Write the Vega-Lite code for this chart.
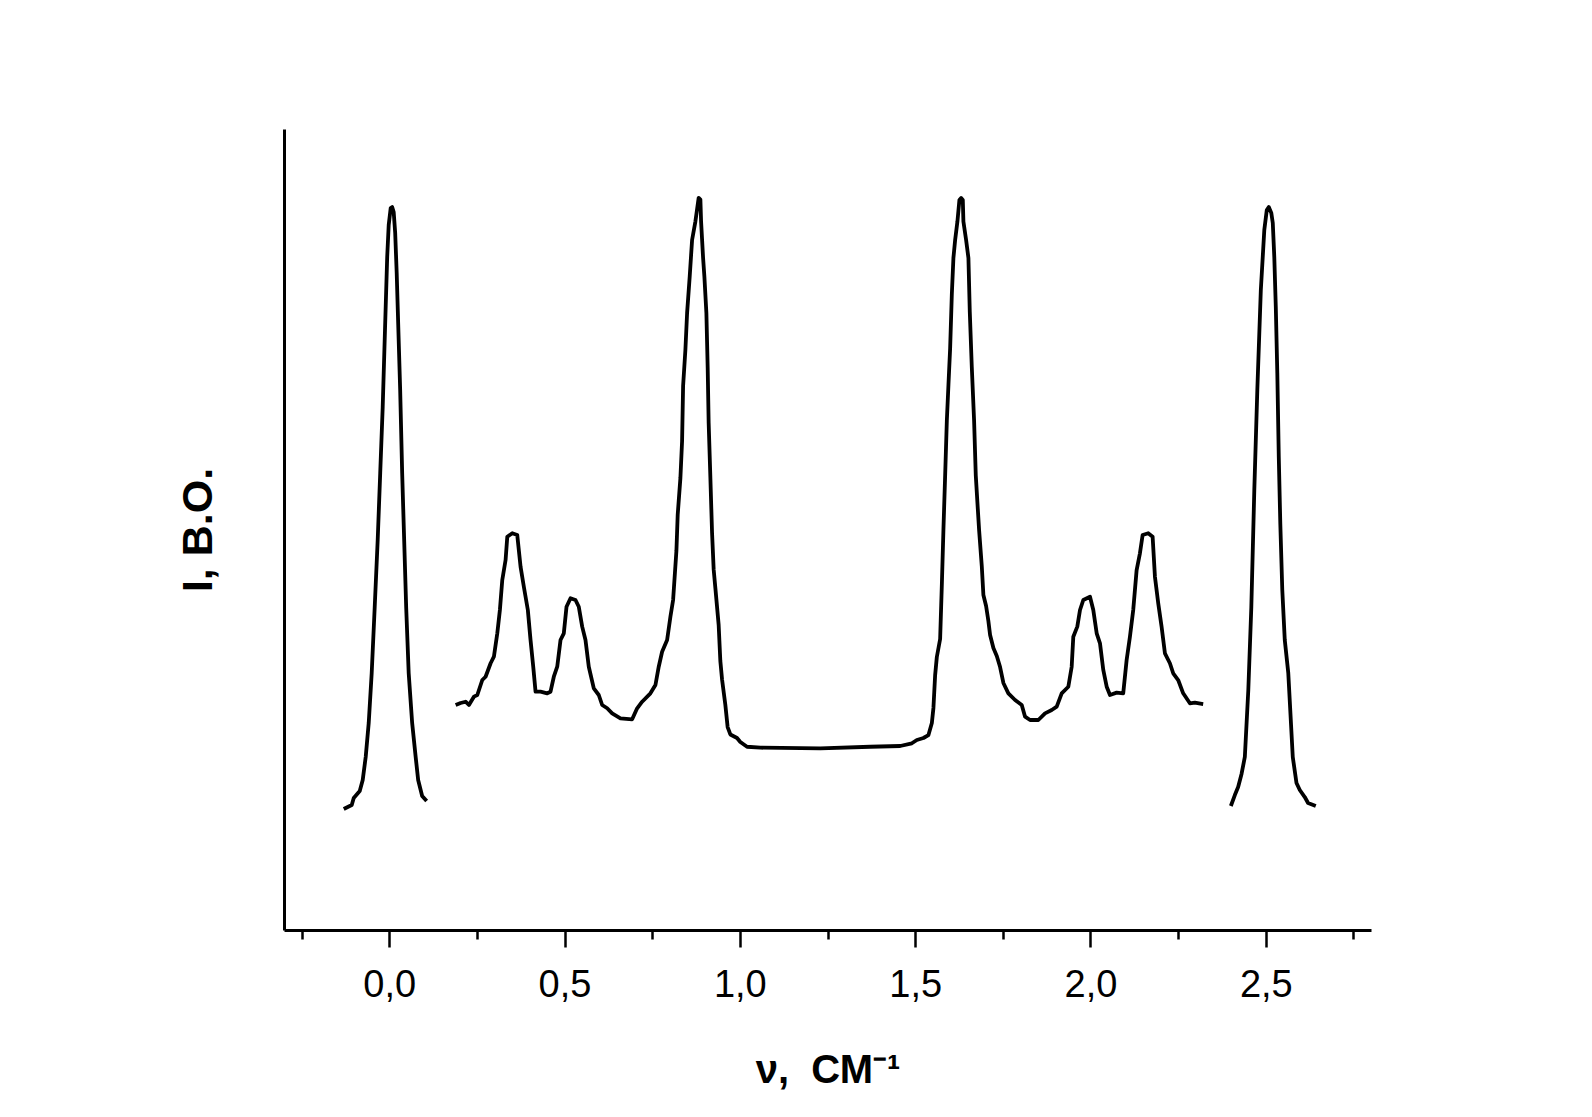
{
  "$schema": "https://vega.github.io/schema/vega-lite/v6.json",
  "width": 1087,
  "height": 801,
  "autosize": {"type": "none"},
  "padding": {"left": 284, "top": 129, "right": 221, "bottom": 187},
  "background": "white",
  "config": {
    "view": {"stroke": null},
    "axis": {
      "domainColor": "black",
      "domainWidth": 3,
      "tickColor": "black",
      "tickWidth": 2.5,
      "grid": false,
      "labelColor": "black",
      "labelFont": "Liberation Sans, Arial, sans-serif",
      "labelFontSize": 38,
      "titleColor": "black",
      "titleFont": "Liberation Sans, Arial, sans-serif",
      "titleFontSize": 40,
      "titleFontWeight": "bold"
    }
  },
  "data": {
    "values": [
      {"seg": "a", "nu": -0.1296, "I": 15.11},
      {"seg": "a", "nu": -0.1068, "I": 15.61},
      {"seg": "a", "nu": -0.1011, "I": 16.48},
      {"seg": "a", "nu": -0.0840, "I": 17.35},
      {"seg": "a", "nu": -0.0755, "I": 18.73},
      {"seg": "a", "nu": -0.0670, "I": 21.60},
      {"seg": "a", "nu": -0.0584, "I": 25.84},
      {"seg": "a", "nu": -0.0499, "I": 32.08},
      {"seg": "a", "nu": -0.0413, "I": 40.32},
      {"seg": "a", "nu": -0.0328, "I": 48.69},
      {"seg": "a", "nu": -0.0256, "I": 57.05},
      {"seg": "a", "nu": -0.0185, "I": 65.29},
      {"seg": "a", "nu": -0.0114, "I": 75.78},
      {"seg": "a", "nu": -0.0057, "I": 84.02},
      {"seg": "a", "nu": -0.0014, "I": 88.01},
      {"seg": "a", "nu": 0.0043, "I": 90.14},
      {"seg": "a", "nu": 0.0085, "I": 90.26},
      {"seg": "a", "nu": 0.0128, "I": 89.64},
      {"seg": "a", "nu": 0.0171, "I": 87.02},
      {"seg": "a", "nu": 0.0214, "I": 82.02},
      {"seg": "a", "nu": 0.0256, "I": 75.78},
      {"seg": "a", "nu": 0.0313, "I": 67.42},
      {"seg": "a", "nu": 0.0370, "I": 57.05},
      {"seg": "a", "nu": 0.0427, "I": 48.69},
      {"seg": "a", "nu": 0.0484, "I": 40.32},
      {"seg": "a", "nu": 0.0556, "I": 32.08},
      {"seg": "a", "nu": 0.0655, "I": 25.84},
      {"seg": "a", "nu": 0.0755, "I": 21.60},
      {"seg": "a", "nu": 0.0826, "I": 18.73},
      {"seg": "a", "nu": 0.0940, "I": 16.73},
      {"seg": "a", "nu": 0.1068, "I": 16.10},

      {"seg": "b", "nu": 0.1895, "I": 28.09},
      {"seg": "b", "nu": 0.2037, "I": 28.34},
      {"seg": "b", "nu": 0.2179, "I": 28.50},
      {"seg": "b", "nu": 0.2274, "I": 28.09},
      {"seg": "b", "nu": 0.2416, "I": 29.13},
      {"seg": "b", "nu": 0.2513, "I": 29.34},
      {"seg": "b", "nu": 0.2655, "I": 31.21},
      {"seg": "b", "nu": 0.2749, "I": 31.62},
      {"seg": "b", "nu": 0.2892, "I": 33.30},
      {"seg": "b", "nu": 0.2986, "I": 34.12},
      {"seg": "b", "nu": 0.3083, "I": 37.04},
      {"seg": "b", "nu": 0.3157, "I": 39.95},
      {"seg": "b", "nu": 0.3225, "I": 43.70},
      {"seg": "b", "nu": 0.3319, "I": 46.19},
      {"seg": "b", "nu": 0.3368, "I": 49.10},
      {"seg": "b", "nu": 0.3510, "I": 49.53},
      {"seg": "b", "nu": 0.3652, "I": 49.31},
      {"seg": "b", "nu": 0.3746, "I": 45.36},
      {"seg": "b", "nu": 0.3840, "I": 42.86},
      {"seg": "b", "nu": 0.3954, "I": 39.95},
      {"seg": "b", "nu": 0.4031, "I": 36.20},
      {"seg": "b", "nu": 0.4108, "I": 32.87},
      {"seg": "b", "nu": 0.4174, "I": 29.75},
      {"seg": "b", "nu": 0.4316, "I": 29.75},
      {"seg": "b", "nu": 0.4507, "I": 29.55},
      {"seg": "b", "nu": 0.4601, "I": 29.75},
      {"seg": "b", "nu": 0.4695, "I": 31.62},
      {"seg": "b", "nu": 0.4792, "I": 32.87},
      {"seg": "b", "nu": 0.4886, "I": 36.20},
      {"seg": "b", "nu": 0.4980, "I": 37.04},
      {"seg": "b", "nu": 0.5057, "I": 40.36},
      {"seg": "b", "nu": 0.5171, "I": 41.41},
      {"seg": "b", "nu": 0.5313, "I": 41.20},
      {"seg": "b", "nu": 0.5407, "I": 40.36},
      {"seg": "b", "nu": 0.5504, "I": 37.87},
      {"seg": "b", "nu": 0.5598, "I": 36.20},
      {"seg": "b", "nu": 0.5692, "I": 32.87},
      {"seg": "b", "nu": 0.5835, "I": 30.17},
      {"seg": "b", "nu": 0.5977, "I": 29.34},
      {"seg": "b", "nu": 0.6074, "I": 28.09},
      {"seg": "b", "nu": 0.6217, "I": 27.68},
      {"seg": "b", "nu": 0.6359, "I": 27.05},
      {"seg": "b", "nu": 0.6595, "I": 26.43},
      {"seg": "b", "nu": 0.6929, "I": 26.30},
      {"seg": "b", "nu": 0.7071, "I": 27.68},
      {"seg": "b", "nu": 0.7214, "I": 28.50},
      {"seg": "b", "nu": 0.7450, "I": 29.55},
      {"seg": "b", "nu": 0.7593, "I": 30.59},
      {"seg": "b", "nu": 0.7687, "I": 32.87},
      {"seg": "b", "nu": 0.7783, "I": 34.74},
      {"seg": "b", "nu": 0.7926, "I": 36.20},
      {"seg": "b", "nu": 0.8020, "I": 39.11},
      {"seg": "b", "nu": 0.8097, "I": 41.20},
      {"seg": "b", "nu": 0.8191, "I": 47.32},
      {"seg": "b", "nu": 0.8228, "I": 51.85},
      {"seg": "b", "nu": 0.8305, "I": 56.43},
      {"seg": "b", "nu": 0.8353, "I": 61.05},
      {"seg": "b", "nu": 0.8382, "I": 67.92},
      {"seg": "b", "nu": 0.8447, "I": 72.41},
      {"seg": "b", "nu": 0.8496, "I": 77.03},
      {"seg": "b", "nu": 0.8570, "I": 81.57},
      {"seg": "b", "nu": 0.8638, "I": 86.14},
      {"seg": "b", "nu": 0.8732, "I": 88.44},
      {"seg": "b", "nu": 0.8826, "I": 91.41},
      {"seg": "b", "nu": 0.8875, "I": 91.19},
      {"seg": "b", "nu": 0.8895, "I": 88.44},
      {"seg": "b", "nu": 0.8952, "I": 83.90},
      {"seg": "b", "nu": 0.8989, "I": 81.57},
      {"seg": "b", "nu": 0.9046, "I": 77.03},
      {"seg": "b", "nu": 0.9083, "I": 70.16},
      {"seg": "b", "nu": 0.9111, "I": 63.30},
      {"seg": "b", "nu": 0.9160, "I": 56.43},
      {"seg": "b", "nu": 0.9208, "I": 49.56},
      {"seg": "b", "nu": 0.9254, "I": 44.99},
      {"seg": "b", "nu": 0.9302, "I": 42.70},
      {"seg": "b", "nu": 0.9396, "I": 38.08},
      {"seg": "b", "nu": 0.9444, "I": 33.58},
      {"seg": "b", "nu": 0.9493, "I": 31.27},
      {"seg": "b", "nu": 0.9587, "I": 28.09},
      {"seg": "b", "nu": 0.9652, "I": 25.34},
      {"seg": "b", "nu": 0.9729, "I": 24.41},
      {"seg": "b", "nu": 0.9920, "I": 23.97},
      {"seg": "b", "nu": 1.0014, "I": 23.47},
      {"seg": "b", "nu": 1.0205, "I": 22.88},
      {"seg": "b", "nu": 1.0584, "I": 22.76},
      {"seg": "b", "nu": 1.2293, "I": 22.68},
      {"seg": "b", "nu": 1.3718, "I": 22.88},
      {"seg": "b", "nu": 1.4573, "I": 22.97},
      {"seg": "b", "nu": 1.4906, "I": 23.31},
      {"seg": "b", "nu": 1.5048, "I": 23.72},
      {"seg": "b", "nu": 1.5236, "I": 23.97},
      {"seg": "b", "nu": 1.5379, "I": 24.34},
      {"seg": "b", "nu": 1.5476, "I": 25.84},
      {"seg": "b", "nu": 1.5521, "I": 27.72},
      {"seg": "b", "nu": 1.5570, "I": 31.84},
      {"seg": "b", "nu": 1.5618, "I": 34.08},
      {"seg": "b", "nu": 1.5712, "I": 36.33},
      {"seg": "b", "nu": 1.5761, "I": 43.12},
      {"seg": "b", "nu": 1.5806, "I": 49.94},
      {"seg": "b", "nu": 1.5855, "I": 56.72},
      {"seg": "b", "nu": 1.5903, "I": 63.55},
      {"seg": "b", "nu": 1.5949, "I": 68.04},
      {"seg": "b", "nu": 1.5997, "I": 72.58},
      {"seg": "b", "nu": 1.6046, "I": 79.40},
      {"seg": "b", "nu": 1.6091, "I": 83.90},
      {"seg": "b", "nu": 1.6140, "I": 86.14},
      {"seg": "b", "nu": 1.6205, "I": 88.44},
      {"seg": "b", "nu": 1.6262, "I": 91.14},
      {"seg": "b", "nu": 1.6311, "I": 91.39},
      {"seg": "b", "nu": 1.6359, "I": 91.14},
      {"seg": "b", "nu": 1.6376, "I": 88.44},
      {"seg": "b", "nu": 1.6453, "I": 86.14},
      {"seg": "b", "nu": 1.6519, "I": 83.90},
      {"seg": "b", "nu": 1.6558, "I": 77.15},
      {"seg": "b", "nu": 1.6615, "I": 70.29},
      {"seg": "b", "nu": 1.6681, "I": 63.55},
      {"seg": "b", "nu": 1.6729, "I": 56.72},
      {"seg": "b", "nu": 1.6823, "I": 49.94},
      {"seg": "b", "nu": 1.6900, "I": 45.44},
      {"seg": "b", "nu": 1.6946, "I": 41.82},
      {"seg": "b", "nu": 1.7023, "I": 40.45},
      {"seg": "b", "nu": 1.7088, "I": 38.58},
      {"seg": "b", "nu": 1.7137, "I": 36.83},
      {"seg": "b", "nu": 1.7231, "I": 35.21},
      {"seg": "b", "nu": 1.7328, "I": 34.21},
      {"seg": "b", "nu": 1.7422, "I": 32.83},
      {"seg": "b", "nu": 1.7516, "I": 30.84},
      {"seg": "b", "nu": 1.7658, "I": 29.55},
      {"seg": "b", "nu": 1.7849, "I": 28.71},
      {"seg": "b", "nu": 1.8040, "I": 28.09},
      {"seg": "b", "nu": 1.8134, "I": 26.63},
      {"seg": "b", "nu": 1.8276, "I": 26.22},
      {"seg": "b", "nu": 1.8513, "I": 26.22},
      {"seg": "b", "nu": 1.8704, "I": 27.05},
      {"seg": "b", "nu": 1.8895, "I": 27.47},
      {"seg": "b", "nu": 1.9037, "I": 27.88},
      {"seg": "b", "nu": 1.9179, "I": 29.55},
      {"seg": "b", "nu": 1.9368, "I": 30.37},
      {"seg": "b", "nu": 1.9464, "I": 32.87},
      {"seg": "b", "nu": 1.9510, "I": 36.62},
      {"seg": "b", "nu": 1.9624, "I": 37.87},
      {"seg": "b", "nu": 1.9701, "I": 39.95},
      {"seg": "b", "nu": 1.9795, "I": 41.20},
      {"seg": "b", "nu": 1.9986, "I": 41.61},
      {"seg": "b", "nu": 2.0080, "I": 39.95},
      {"seg": "b", "nu": 2.0177, "I": 37.04},
      {"seg": "b", "nu": 2.0271, "I": 35.79},
      {"seg": "b", "nu": 2.0365, "I": 32.46},
      {"seg": "b", "nu": 2.0462, "I": 30.37},
      {"seg": "b", "nu": 2.0556, "I": 29.34},
      {"seg": "b", "nu": 2.0746, "I": 29.63},
      {"seg": "b", "nu": 2.0934, "I": 29.55},
      {"seg": "b", "nu": 2.1031, "I": 33.71},
      {"seg": "b", "nu": 2.1125, "I": 36.62},
      {"seg": "b", "nu": 2.1219, "I": 39.95},
      {"seg": "b", "nu": 2.1316, "I": 44.94},
      {"seg": "b", "nu": 2.1410, "I": 47.03},
      {"seg": "b", "nu": 2.1487, "I": 49.31},
      {"seg": "b", "nu": 2.1647, "I": 49.53},
      {"seg": "b", "nu": 2.1772, "I": 49.10},
      {"seg": "b", "nu": 2.1838, "I": 44.11},
      {"seg": "b", "nu": 2.1932, "I": 40.79},
      {"seg": "b", "nu": 2.2028, "I": 37.87},
      {"seg": "b", "nu": 2.2123, "I": 34.54},
      {"seg": "b", "nu": 2.2265, "I": 33.30},
      {"seg": "b", "nu": 2.2359, "I": 32.05},
      {"seg": "b", "nu": 2.2501, "I": 31.21},
      {"seg": "b", "nu": 2.2644, "I": 29.55},
      {"seg": "b", "nu": 2.2835, "I": 28.30},
      {"seg": "b", "nu": 2.2977, "I": 28.38},
      {"seg": "b", "nu": 2.3214, "I": 28.21},

      {"seg": "c", "nu": 2.4003, "I": 15.48},
      {"seg": "c", "nu": 2.4117, "I": 16.85},
      {"seg": "c", "nu": 2.4211, "I": 17.85},
      {"seg": "c", "nu": 2.4308, "I": 19.48},
      {"seg": "c", "nu": 2.4402, "I": 21.60},
      {"seg": "c", "nu": 2.4501, "I": 29.96},
      {"seg": "c", "nu": 2.4587, "I": 40.32},
      {"seg": "c", "nu": 2.4672, "I": 54.93},
      {"seg": "c", "nu": 2.4758, "I": 67.42},
      {"seg": "c", "nu": 2.4858, "I": 79.90},
      {"seg": "c", "nu": 2.4957, "I": 87.39},
      {"seg": "c", "nu": 2.5028, "I": 89.89},
      {"seg": "c", "nu": 2.5085, "I": 90.26},
      {"seg": "c", "nu": 2.5157, "I": 89.51},
      {"seg": "c", "nu": 2.5199, "I": 88.26},
      {"seg": "c", "nu": 2.5242, "I": 84.02},
      {"seg": "c", "nu": 2.5285, "I": 77.78},
      {"seg": "c", "nu": 2.5328, "I": 69.54},
      {"seg": "c", "nu": 2.5370, "I": 59.05},
      {"seg": "c", "nu": 2.5413, "I": 50.81},
      {"seg": "c", "nu": 2.5470, "I": 42.45},
      {"seg": "c", "nu": 2.5541, "I": 36.20},
      {"seg": "c", "nu": 2.5641, "I": 32.08},
      {"seg": "c", "nu": 2.5769, "I": 21.60},
      {"seg": "c", "nu": 2.5875, "I": 18.35},
      {"seg": "c", "nu": 2.5969, "I": 17.48},
      {"seg": "c", "nu": 2.6111, "I": 16.60},
      {"seg": "c", "nu": 2.6205, "I": 15.86},
      {"seg": "c", "nu": 2.6425, "I": 15.48}
    ]
  },
  "mark": {"type": "line", "color": "black", "strokeWidth": 3.8, "strokeJoin": "round"},
  "encoding": {
    "x": {
      "field": "nu",
      "type": "quantitative",
      "scale": {"domain": [-0.3, 2.8], "nice": false, "zero": false},
      "axis": {
        "title": "ν,\u00a0\u00a0СМ⁻¹",
        "values": [-0.25, 0, 0.25, 0.5, 0.75, 1, 1.25, 1.5, 1.75, 2, 2.25, 2.5, 2.75],
        "tickSize": {"condition": {"test": "abs(datum.value*2 - round(datum.value*2)) < 0.001", "value": 17}, "value": 9},
        "labelExpr": "abs(datum.value*2 - round(datum.value*2)) < 0.001 ? replace(format(datum.value, '.1f'), '.', ',') : ''",
        "labelPadding": 19,
        "labelFlush": false,
        "labelOverlap": false,
        "titlePadding": 46
      }
    },
    "y": {
      "field": "I",
      "type": "quantitative",
      "scale": {"domain": [0, 100], "nice": false, "zero": false},
      "axis": {
        "title": "I, В.О.",
        "labels": false,
        "ticks": false,
        "titlePadding": 64,
        "titleFontSize": 43
      }
    },
    "detail": {"field": "seg"}
  }
}
